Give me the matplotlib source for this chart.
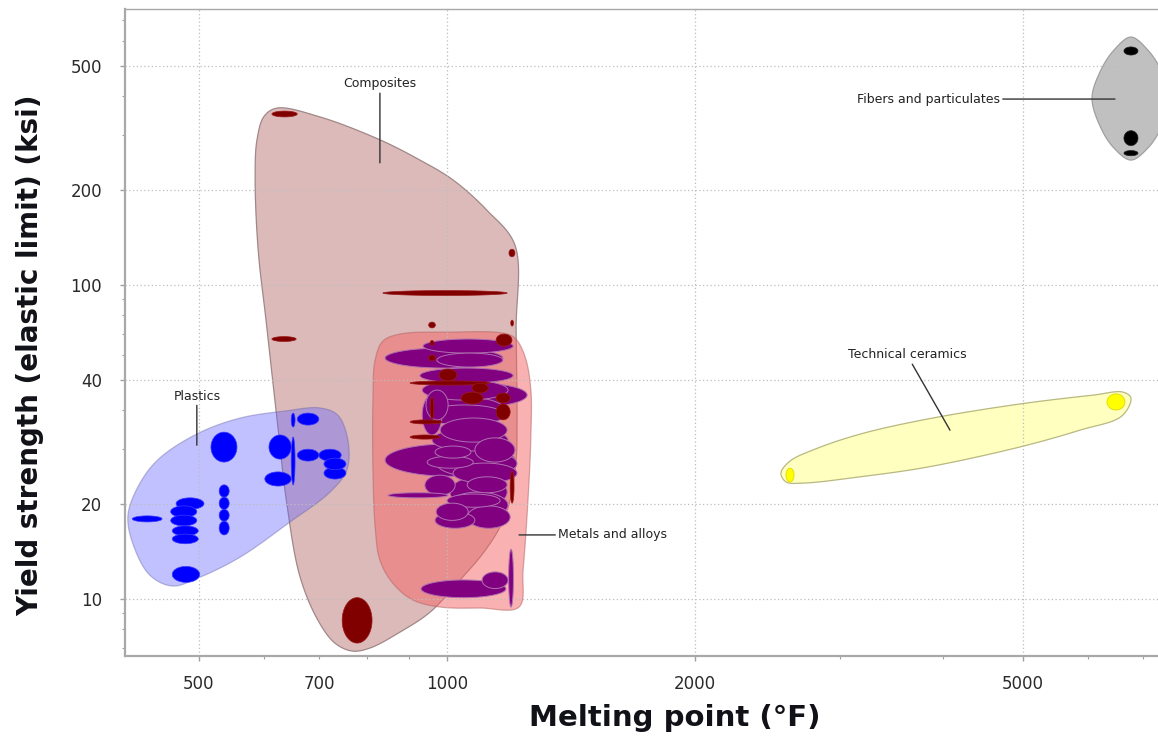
import numpy as np
import matplotlib
matplotlib.use("Agg")
import matplotlib.pyplot as plt
from matplotlib.ticker import FixedLocator, FixedFormatter, NullFormatter, FuncFormatter

# ---------------------------------------------------------------------------
# Material property ranges: melting point (°F) low/high, yield strength (ksi) low/high
# ---------------------------------------------------------------------------
plastics_t_lo = [415, 469, 462, 462, 464, 464, 464, 517, 529, 529, 529, 529, 608, 601, 647, 647, 658, 658, 699, 709, 709]
plastics_t_hi = [451, 507, 497, 497, 499, 499, 501, 556, 544, 544, 544, 544, 647, 647, 654, 654, 699, 699, 744, 754, 754]
plastics_s_lo = [17.6, 19.3, 18.2, 17.1, 15.9, 15.0, 11.3, 27.3, 21.1, 19.3, 17.7, 16.0, 27.9, 22.9, 23.1, 35.3, 35.8, 27.5, 27.5, 25.8, 24.1]
plastics_s_hi = [18.4, 21.0, 19.8, 18.5, 17.1, 16.1, 12.7, 34.0, 23.1, 21.1, 19.3, 17.7, 33.3, 25.4, 32.8, 39.1, 39.1, 30.0, 30.0, 28.1, 26.3]

metals_t_lo = [841, 935, 972, 927, 946, 935, 981, 841, 972, 1017, 1008, 848, 970, 1058, 1000, 930, 1103, 1188, 943, 967, 946, 1058,
               933, 940, 959, 1003, 967, 933, 940, 1081]
metals_t_hi = [1169, 1203, 1169, 1203, 1251, 1169, 1183, 1209, 1216, 1216, 1183, 1003, 1061, 1193, 1160, 1179, 1186, 1204, 1003, 1069, 1076, 1183,
               1186, 1176, 1186, 1186, 1081, 986, 1023, 1209]
metals_s_lo = [54.4, 60.7, 54.8, 48.7, 40.9, 37.4, 31.6, 24.6, 24.5, 23.4, 19.6, 21.0, 17.8, 16.8, 19.6, 10.1, 10.8, 9.43, 37.2, 28.1, 26.1, 21.8,
               43.0, 35.8, 29.6, 18.1, 16.8, 33.3, 21.4, 27.3]
metals_s_hi = [63.0, 67.3, 60.7, 54.4, 48.7, 44.0, 37.7, 31.2, 29.8, 27.1, 24.5, 21.8, 20.2, 19.8, 21.6, 11.5, 12.2, 14.4, 46.3, 30.7, 28.5, 24.5,
               49.8, 41.5, 34.8, 21.9, 18.9, 44.6, 24.8, 32.6]

composites_t_lo = [613, 836, 1189, 950, 1195, 613, 746, 1147, 954, 950, 978, 902, 1072, 1040, 1147, 1147, 954, 902, 902, 1193]
composites_t_hi = [658, 1183, 1209, 968, 1204, 656, 811, 1199, 964, 968, 1028, 1128, 1122, 1106, 1193, 1193, 964, 986, 981, 1206]
composites_s_lo = [343, 92.6, 123, 73.0, 74.0, 66.1, 7.24, 63.9, 64.2, 57.3, 49.5, 48.0, 45.3, 41.8, 42.1, 37.2, 37.4, 36.1, 32.3, 20.2]
composites_s_hi = [358, 96.0, 130, 76.2, 77.3, 68.5, 10.1, 69.8, 66.6, 59.9, 54.0, 49.5, 48.7, 45.6, 45.3, 41.8, 44.0, 37.2, 33.3, 25.6]

ceramics_t_lo = [2579, 6324]
ceramics_t_hi = [2637, 6649]
ceramics_s_lo = [23.6, 40.0]
ceramics_s_hi = [26.1, 45.0]

fibers_t_lo = [6631, 6631, 6631]
fibers_t_hi = [6896, 6896, 6896]
fibers_s_lo = [540, 278, 258]
fibers_s_hi = [573, 310, 268]

# Family envelopes (outline vertices, °F / ksi)
composites_env_t = [622, 701, 829, 927, 1017, 1118, 1209, 1213, 1216, 1213, 1193, 1160, 1106, 1037,
                    954, 877, 806, 767, 731, 697, 663, 639, 622, 603, 590, 585, 588, 600]
composites_env_s = [366, 343, 290, 250, 216, 173, 134, 71.9, 37.2, 27.7, 20.7, 17.0, 14.0, 11.5,
                    9.09, 7.85, 6.98, 6.83, 7.24, 8.57, 11.8, 20.2, 37.2, 77.3, 129, 216, 290, 345]

metals_env_t = [813, 818, 836, 877, 1008, 1169, 1209, 1244, 1264, 1264, 1254, 1237, 1223, 1097, 981, 909, 860, 829, 818, 813]
metals_env_s = [43.0, 57.7, 66.3, 69.8, 70.8, 70.3, 67.8, 59.0, 46.3, 32.8, 20.7, 12.4, 9.43, 9.36, 9.43, 9.93, 11.2, 13.3, 17.0, 25.8]

plastics_env_t = [410, 424, 448, 500, 561, 636, 701, 737, 758, 756, 721, 645, 561, 500, 464, 436, 416]
plastics_env_s = [18.5, 23.4, 28.1, 33.8, 37.7, 39.7, 40.6, 38.5, 32.1, 25.8, 21.9, 17.6, 13.6, 11.7, 11.0, 11.9, 14.9]

ceramics_env_t = [2543, 2608, 2796, 3171, 3824, 4959, 6081, 6612, 6761, 6594, 5864, 4959, 3824, 3171, 2704, 2579]
ceramics_env_s = [25.2, 27.5, 30.0, 33.5, 37.4, 41.8, 44.6, 45.6, 43.7, 38.3, 34.5, 30.5, 26.3, 24.5, 23.4, 23.6]

fibers_env_t = [6761, 7089, 7352, 7541, 7352, 7089, 6761, 6449, 6219, 6065, 6219, 6449]
fibers_env_s = [616, 560, 484, 394, 316, 273, 250, 273, 316, 394, 484, 560]

# Family labels: text, leader-line end (°F, ksi), text anchor (°F, ksi), alignment
label_texts = ["Composites", "Plastics", "Metals and alloys", "Technical ceramics", "Fibers and particulates"]
label_tips = [(829, 245), (497, 30.9), (1223, 16.0), (4078, 34.5), (6467, 391)]
label_anchors = [(829, 437), (497, 44.3), (1364, 16.0), (3616, 59.9), (4690, 391)]
label_align = ["center", "center", "left", "center", "right"]

# Axis ticks
x_major_ticks = [500, 1000, 2000, 5000]
x_minor_ticks = [400, 600, 700, 800, 900, 3000, 4000, 6000, 7000]
x_labeled_minor = [700]
y_tick_pos = [10, 20, 50, 100, 200, 500]
y_tick_text = ["10", "20", "40", "100", "200", "500"]
y_minor_ticks = [7, 8, 9, 30, 40, 60, 70, 80, 90, 300, 400, 600, 700]

# ---------------------------------------------------------------------------
fig = plt.figure(figsize=(11.58, 7.42), dpi=100)
ax = fig.add_axes([0.10794, 0.11590, 0.89206, 0.87197])
ax.set_xscale("log")
ax.set_yscale("log")
ax.set_xlim(406.6, 7293)
ax.set_ylim(6.585, 756.8)


def catmull_rom_closed(pts, n=24):
    """Centripetal Catmull-Rom spline through a closed ring of points."""
    N = len(pts)
    out = []
    for i in range(N):
        p0, p1, p2, p3 = pts[i - 1], pts[i], pts[(i + 1) % N], pts[(i + 2) % N]
        t0 = 0.0
        t1 = t0 + max(np.linalg.norm(p1 - p0), 1e-6) ** 0.5
        t2 = t1 + max(np.linalg.norm(p2 - p1), 1e-6) ** 0.5
        t3 = t2 + max(np.linalg.norm(p3 - p2), 1e-6) ** 0.5
        t = np.linspace(t1, t2, n, endpoint=False)[:, None]
        a1 = (t1 - t) / (t1 - t0) * p0 + (t - t0) / (t1 - t0) * p1
        a2 = (t2 - t) / (t2 - t1) * p1 + (t - t1) / (t2 - t1) * p2
        a3 = (t3 - t) / (t3 - t2) * p2 + (t - t2) / (t3 - t2) * p3
        b1 = (t2 - t) / (t2 - t0) * a1 + (t - t0) / (t2 - t0) * a2
        b2 = (t3 - t) / (t3 - t1) * a2 + (t - t1) / (t3 - t1) * a3
        out.append((t2 - t) / (t2 - t1) * b1 + (t - t1) / (t2 - t1) * b2)
    return np.vstack(out)


def draw_envelope(ts, ss, face, edge, alpha, z):
    disp = ax.transData.transform(np.column_stack([ts, ss]))
    curve = ax.transData.inverted().transform(catmull_rom_closed(disp))
    ax.fill(curve[:, 0], curve[:, 1], facecolor=face, edgecolor=edge,
            alpha=alpha, lw=0.9, zorder=z)


def draw_members(t_lo, t_hi, s_lo, s_hi, face, edge, lw, z):
    lx0, lx1 = np.log10(t_lo), np.log10(t_hi)
    ly0, ly1 = np.log10(s_lo), np.log10(s_hi)
    order = np.argsort(-(lx1 - lx0) * (ly1 - ly0), kind="stable")  # larger bubbles underneath
    th = np.linspace(0, 2 * np.pi, 90)
    for k in order:
        cx, cy = (lx0[k] + lx1[k]) / 2, (ly0[k] + ly1[k]) / 2
        rx, ry = (lx1[k] - lx0[k]) / 2, (ly1[k] - ly0[k]) / 2
        ax.fill(10 ** (cx + rx * np.cos(th)), 10 ** (cy + ry * np.sin(th)),
                facecolor=face, edgecolor=edge, lw=lw, zorder=z)


# Envelopes
draw_envelope(composites_env_t, composites_env_s, "#DDBABA", "#A08888", 1.0, 1.0)
draw_envelope(metals_env_t, metals_env_s, "#F56464", "#B06060", 0.5, 1.2)
draw_envelope(plastics_env_t, plastics_env_s, "#6666FF", "#6060A0", 0.4, 1.4)
draw_envelope(ceramics_env_t, ceramics_env_s, "#FFFFC0", "#B8B880", 1.0, 1.4)
draw_envelope(fibers_env_t, fibers_env_s, "#C0C0C0", "#A0A0A0", 1.0, 1.4)

# Grid between envelopes and material bubbles
grid_kw = dict(color="#BDBDBD", lw=0.9, ls=(0, (1, 2)), zorder=2.0)
for v in x_major_ticks:
    ax.axvline(v, **grid_kw)
for v in y_tick_pos:
    ax.axhline(v, **grid_kw)

# Material bubbles
draw_members(plastics_t_lo, plastics_t_hi, plastics_s_lo, plastics_s_hi, "#0000FF", "#3A3AFF", 0.5, 3.0)
draw_members(metals_t_lo, metals_t_hi, metals_s_lo, metals_s_hi, "#800080", "#B070B0", 0.7, 3.0)
draw_members(composites_t_lo, composites_t_hi, composites_s_lo, composites_s_hi, "#800000", "#9A1A1A", 0.5, 3.5)
draw_members(ceramics_t_lo, ceramics_t_hi, ceramics_s_lo, ceramics_s_hi, "#FFFF00", "#E0D800", 0.6, 3.0)
draw_members(fibers_t_lo, fibers_t_hi, fibers_s_lo, fibers_s_hi, "#000000", "#202020", 0.5, 3.0)

# Family labels with leader lines
for txt, tip, anchor, ha in zip(label_texts, label_tips, label_anchors, label_align):
    ax.annotate(txt, xy=tip, xytext=anchor, textcoords="data", ha=ha, va="center",
                fontsize=9, color="#222222", zorder=5,
                arrowprops=dict(arrowstyle="-", color="#333333", lw=1.0,
                                shrinkA=0, shrinkB=0))

# Axes styling
ax.xaxis.set_major_locator(FixedLocator(x_major_ticks))
ax.xaxis.set_major_formatter(FixedFormatter([str(v) for v in x_major_ticks]))
ax.xaxis.set_minor_locator(FixedLocator(x_minor_ticks))
ax.xaxis.set_minor_formatter(FuncFormatter(
    lambda v, p: str(int(round(v))) if any(abs(v - m) < 1e-6 for m in x_labeled_minor) else ""))
ax.yaxis.set_major_locator(FixedLocator(y_tick_pos))
ax.yaxis.set_major_formatter(FixedFormatter(y_tick_text))
ax.yaxis.set_minor_locator(FixedLocator(y_minor_ticks))
ax.yaxis.set_minor_formatter(NullFormatter())

ax.tick_params(axis="both", which="major", direction="out", length=3.5, width=1,
               color="#A0A0A0", labelsize=12, labelcolor="#2A2A2A")
ax.tick_params(axis="both", which="minor", direction="out", length=2, width=0.8,
               color="#A0A0A0", labelsize=12, labelcolor="#2A2A2A")
ax.tick_params(axis="x", which="major", pad=10.5)
ax.tick_params(axis="x", which="minor", pad=12.0)
ax.tick_params(axis="y", which="major", pad=13)

for side in ("left", "bottom"):
    ax.spines[side].set_color("#A8A8A8")
    ax.spines[side].set_linewidth(1.6)
ax.spines["top"].set_color("#A8A8A8")
ax.spines["top"].set_linewidth(1.0)
ax.spines["right"].set_visible(False)

ax.set_xlabel("Melting point (°F)", fontsize=21, fontweight="bold", color="#111118", va="center")
ax.xaxis.set_label_coords(0.532, -0.0958)
ax.set_ylabel("Yield strength (elastic limit) (ksi)", fontsize=20, fontweight="bold",
              color="#111118", va="center", ha="center")
ax.yaxis.set_label_coords(-0.092, 0.465)

fig.savefig("out.png", dpi=100)
